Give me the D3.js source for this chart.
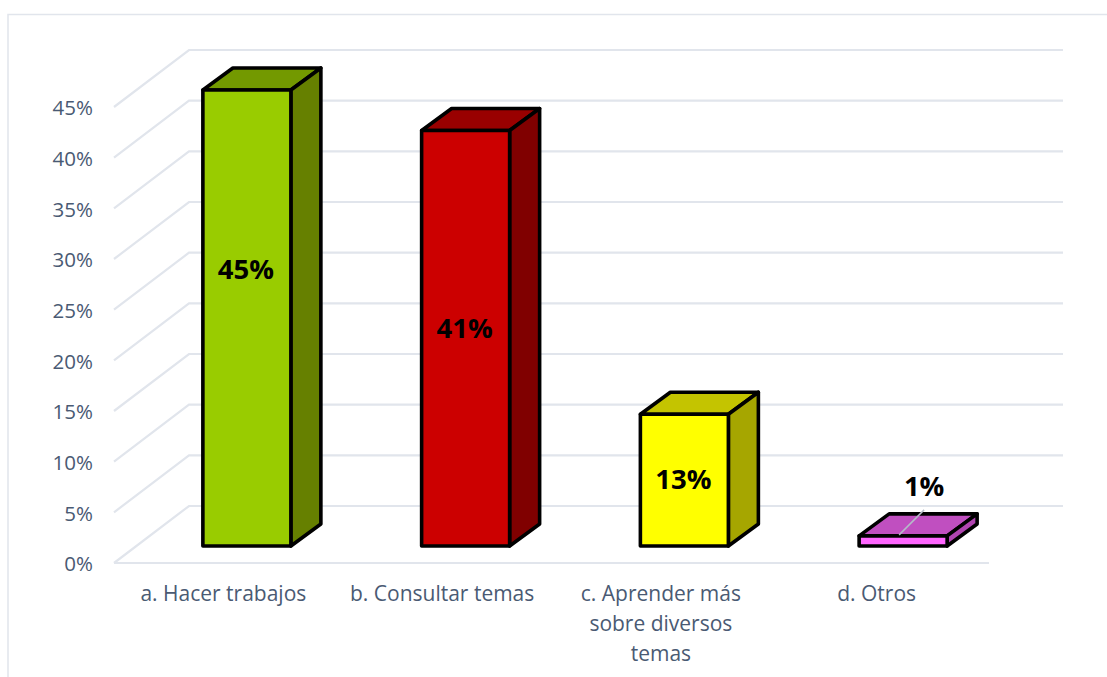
<!DOCTYPE html>
<html><head><meta charset="utf-8">
<script src="https://cdn.jsdelivr.net/npm/d3@7"></script>
<style>html,body{margin:0;padding:0;background:#fff}svg{display:block}</style>
</head><body><div id="chart"></div>
<script>
const categories = [["a. Hacer trabajos"],["b. Consultar temas"],["c. Aprender más","sobre diversos","temas"],["d. Otros"]];
const values = [45,41,13,1];
const valueLabels = ["45%","41%","13%","1%"];
const tickValues = [0,5,10,15,20,25,30,35,40,45];
const frontColors = ["#99CC00","#CC0000","#FFFF00","#FF66FF"];
const topColors = ["#739900","#990000","#C4C400","#C04FC0"];
const sideColors = ["#668000","#800000","#A6A600","#B044B0"];

const W=1107,H=677, x0=114,x1=989, yBase=563, yTop=107;
const depthX=75, depthY=57, barDX=30, barDY=22, barW=88, barShift=23.5, barLift=17;
const labelNudge=[-49,-10,-1,0];
const grid="#E1E5EC", txt="#4A5A73", font="'Open Sans','Noto Sans',sans-serif";

const svg=d3.select("#chart").append("svg").attr("width",W).attr("height",H);
const x=d3.scaleBand().domain(d3.range(categories.length)).range([x0,x1]);
const y=d3.scaleLinear().domain([0,45]).range([yBase,yTop]);

// frame
svg.append("path").attr("d",`M8,${H} V14.5 H${W}`).attr("fill","none").attr("stroke",grid).attr("stroke-width",1.5);

// grid: wall lines, side diagonals, floor front edge
const g=svg.append("g").attr("fill","none").attr("stroke",grid).attr("stroke-width",2.2);
tickValues.forEach(t=>{
  g.append("path").attr("d",`M${x0},${y(t)} L${x0+depthX},${y(t)-depthY} H${x1+depthX-1}`);
});
g.append("path").attr("d",`M${x0},${y(0)} H${x1}`);

// y axis labels
const yAxis=d3.axisLeft(y).tickValues(tickValues).tickFormat(d=>d+"%").tickSize(0).tickPadding(0);
const ya=svg.append("g").attr("transform",`translate(93,0.5)`).call(yAxis);
ya.select(".domain").remove();
ya.selectAll("text").attr("fill",txt).attr("font-family",font).attr("font-size",20.5).attr("dy","0.35em");

// bars
const sw=3.6;
const bars=svg.append("g").selectAll("g").data(values).join("g")
  .attr("stroke","#000").attr("stroke-width",sw).attr("stroke-linejoin","round");
const bx=(i)=>x(i)+x.bandwidth()/2+barShift-barW/2;
const by0=y(0)-barLift;
const hgt=v=>y(0)-y(v);
bars.append("path").attr("fill",(d,i)=>topColors[i]).attr("d",(d,i)=>{
  const X=bx(i),T=by0-hgt(d);
  return `M${X},${T} l${barDX},${-barDY} h${barW} l${-barDX},${barDY} Z`;
});
bars.append("path").attr("fill",(d,i)=>sideColors[i]).attr("d",(d,i)=>{
  const X=bx(i)+barW,T=by0-hgt(d);
  return `M${X},${T} l${barDX},${-barDY} V${by0-barDY} L${X},${by0} Z`;
});
bars.append("path").attr("fill",(d,i)=>frontColors[i]).attr("d",(d,i)=>{
  const X=bx(i),T=by0-hgt(d);
  return `M${X},${T} h${barW} V${by0} H${X} Z`;
});

// leader line for the small bar
svg.append("line").attr("x1",bx(3)+40).attr("y1",by0-hgt(values[3])-1)
  .attr("x2",bx(3)+65).attr("y2",by0-hgt(values[3])-26)
  .attr("stroke","#B4BCC8").attr("stroke-width",1.5);

// data labels
svg.append("g").selectAll("text").data(values).join("text")
  .attr("x",(d,i)=>i===3?bx(i)+barW/2+21:bx(i)+barW/2-1)
  .attr("y",(d,i)=>i===3?by0-hgt(d)-49:by0-hgt(d)/2+labelNudge[i])
  .attr("dy","0.35em").attr("text-anchor","middle")
  .attr("font-family",font).attr("font-weight",700).attr("font-size",27.5).attr("fill","#000")
  .text((d,i)=>valueLabels[i]);

// category labels
const cats=svg.append("g").selectAll("text").data(categories).join("text")
  .attr("text-anchor","middle").attr("font-family",font).attr("font-size",21).attr("fill",txt);
cats.selectAll("tspan").data((d,i)=>d.map(s=>({s,i}))).join("tspan")
  .attr("x",d=>x(d.i)+x.bandwidth()/2-(d.i===3?3:0)).attr("y",(d,j)=>601+j*30).text(d=>d.s);
</script></body></html>
